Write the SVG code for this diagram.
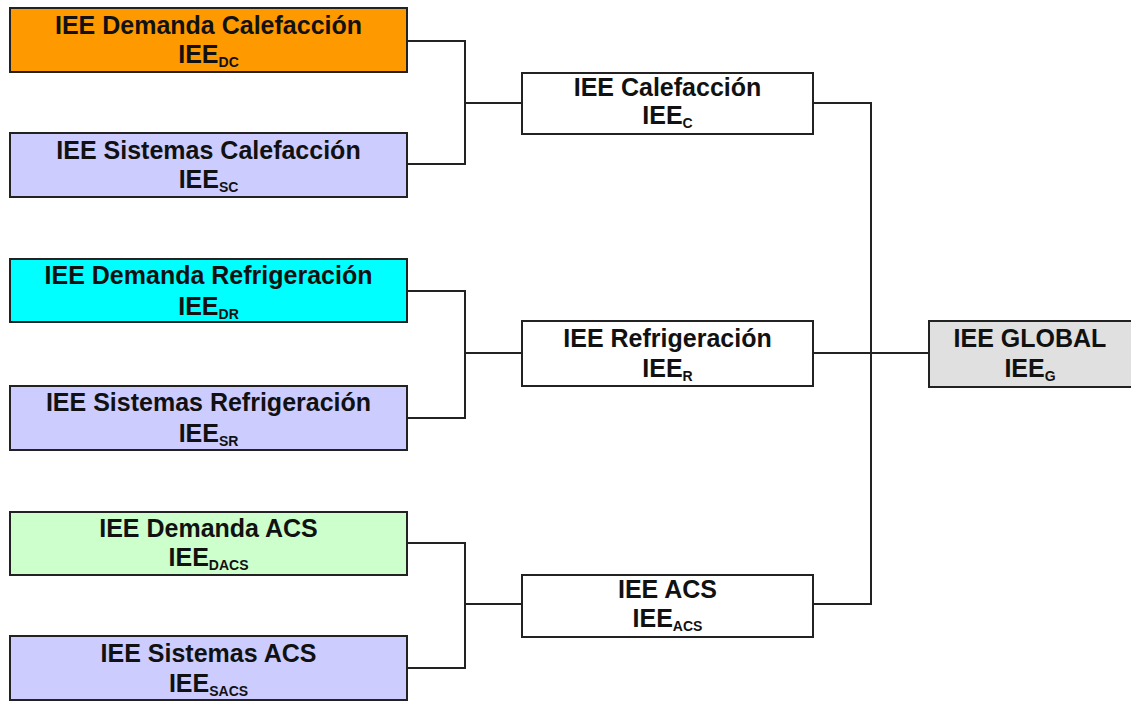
<svg xmlns="http://www.w3.org/2000/svg" width="1131" height="707" viewBox="0 0 1131 707">
<style>
.box{stroke:#222;stroke-width:2}
.t{font-family:"Liberation Sans",Arial,sans-serif;font-weight:bold;font-size:25px;fill:#111;text-anchor:middle}
.s{font-size:14px}
.c{fill:none;stroke:#222;stroke-width:2}
</style>
<rect width="1131" height="707" fill="#ffffff"/>
<g id="connectors">
<path class="c" d="M407,41 H465 V164 H407 M465,103 H522"/>
<path class="c" d="M407,291 H465 V418 H407 M465,353 H522"/>
<path class="c" d="M407,543 H465 V668 H407 M465,604 H522"/>
<path class="c" d="M813,103 H871 V604 H813 M813,353 H929"/>
</g>
<g id="dc">
<rect class="box" x="10" y="8" width="397" height="64" fill="#ff9900"/>
<text class="t" x="208.5" y="34">IEE Demanda Calefacción</text>
<text class="t" x="208.5" y="63">IEE<tspan class="s" dy="4">DC</tspan></text>
</g>
<g id="sc">
<rect class="box" x="10" y="133" width="397" height="64" fill="#ccccff"/>
<text class="t" x="208.5" y="159">IEE Sistemas Calefacción</text>
<text class="t" x="208.5" y="188">IEE<tspan class="s" dy="4">SC</tspan></text>
</g>
<g id="dr">
<rect class="box" x="10" y="259" width="397" height="63" fill="#00ffff"/>
<text class="t" x="208.5" y="284">IEE Demanda Refrigeración</text>
<text class="t" x="208.5" y="315">IEE<tspan class="s" dy="4">DR</tspan></text>
</g>
<g id="sr">
<rect class="box" x="10" y="386" width="397" height="64" fill="#ccccff"/>
<text class="t" x="208.5" y="411">IEE Sistemas Refrigeración</text>
<text class="t" x="208.5" y="442">IEE<tspan class="s" dy="4">SR</tspan></text>
</g>
<g id="dacs">
<rect class="box" x="10" y="512" width="397" height="63" fill="#ccffcc"/>
<text class="t" x="208.5" y="537">IEE Demanda ACS</text>
<text class="t" x="208.5" y="566">IEE<tspan class="s" dy="4">DACS</tspan></text>
</g>
<g id="sacs">
<rect class="box" x="10" y="636" width="397" height="64" fill="#ccccff"/>
<text class="t" x="208.5" y="662">IEE Sistemas ACS</text>
<text class="t" x="208.5" y="692">IEE<tspan class="s" dy="4">SACS</tspan></text>
</g>
<g id="c">
<rect class="box" x="522" y="73" width="291" height="61" fill="#ffffff"/>
<text class="t" x="667.5" y="96">IEE Calefacción</text>
<text class="t" x="667.5" y="124">IEE<tspan class="s" dy="4">C</tspan></text>
</g>
<g id="r">
<rect class="box" x="522" y="321" width="291" height="65" fill="#ffffff"/>
<text class="t" x="667.5" y="347">IEE Refrigeración</text>
<text class="t" x="667.5" y="377">IEE<tspan class="s" dy="4">R</tspan></text>
</g>
<g id="acs">
<rect class="box" x="522" y="575" width="291" height="62" fill="#ffffff"/>
<text class="t" x="667.5" y="598">IEE ACS</text>
<text class="t" x="667.5" y="627">IEE<tspan class="s" dy="4">ACS</tspan></text>
</g>
<g id="g">
<rect class="box" x="929" y="321" width="205" height="66" fill="#e0e0e0"/>
<text class="t" x="1030" y="347">IEE GLOBAL</text>
<text class="t" x="1030" y="377">IEE<tspan class="s" dy="4">G</tspan></text>
</g>
</svg>
